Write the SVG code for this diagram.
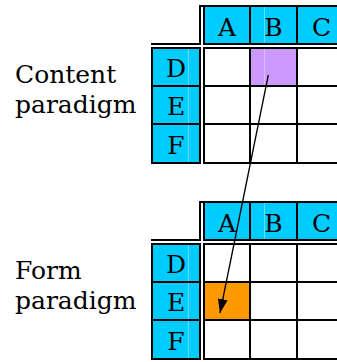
<svg xmlns="http://www.w3.org/2000/svg" width="337" height="362" viewBox="0 0 337 362">
  <style>
    .lbl { font-family: "DejaVu Serif", "Liberation Serif", serif; font-size: 25px; fill: #000; }
    .hd { font-family: "DejaVu Serif", "Liberation Serif", serif; font-size: 25px; fill: #000; text-anchor: middle; }
    .hdr { fill: #00ccff; }
    .grid { fill: none; stroke: #000; stroke-width: 2; }
    .gap { fill: none; stroke: #fff; stroke-width: 2; }
    .sheen { fill: none; stroke: #66ddff; stroke-width: 1; }
    .link { fill: none; stroke: #000; stroke-width: 1.3; }
  </style>
  <defs>
    <marker id="head" markerUnits="userSpaceOnUse" markerWidth="15" markerHeight="11" refX="14" refY="5" orient="auto">
      <path d="M0,0 L14,5 L0,10 z" fill="#000"/>
    </marker>
    <!-- one 3x3 paradigm table with header row and header column -->
    <g id="table">
      <rect class="hdr" x="199" y="5" width="138" height="40"/>
      <rect class="hdr" x="151" y="47" width="50" height="117"/>
      <path class="sheen" d="M264.5 7 V43 M188.5 49 V162"/>
      <path class="grid" d="M199 6 H337 M151 44 H337 M151 48 H337 M151 86 H337 M151 124 H337 M151 163 H337
                            M152 47 V164 M200 5 V164 M204 5 V164 M250 5 V164 M297 5 V164"/>
      <path class="gap" d="M202 7 V164 M151 46 H337"/>
      <text class="hd" x="227" y="36">A</text>
      <text class="hd" x="273.5" y="36">B</text>
      <text class="hd" x="321.5" y="36">C</text>
      <text class="hd" x="176" y="77">D</text>
      <text class="hd" x="176" y="115">E</text>
      <text class="hd" x="176" y="154">F</text>
    </g>
  </defs>

  <g id="content-paradigm">
    <text class="lbl" x="15" y="83">Content</text>
    <text class="lbl" x="15" y="113">paradigm</text>
    <rect x="251" y="49" width="45" height="36" fill="#cc99ff"/>
    <line x1="264.5" y1="49" x2="264.5" y2="85" stroke="#ddbbff" stroke-width="1"/>
    <use href="#table"/>
  </g>

  <g id="form-paradigm">
    <text class="lbl" x="15" y="279">Form</text>
    <text class="lbl" x="15" y="309">paradigm</text>
    <rect x="205" y="283" width="44" height="36" fill="#ff9900"/>
    <use href="#table" y="196"/>
  </g>

  <g id="connectors">
    <line class="link" x1="268.3" y1="75" x2="220" y2="313" marker-end="url(#head)"/>
  </g>
</svg>
